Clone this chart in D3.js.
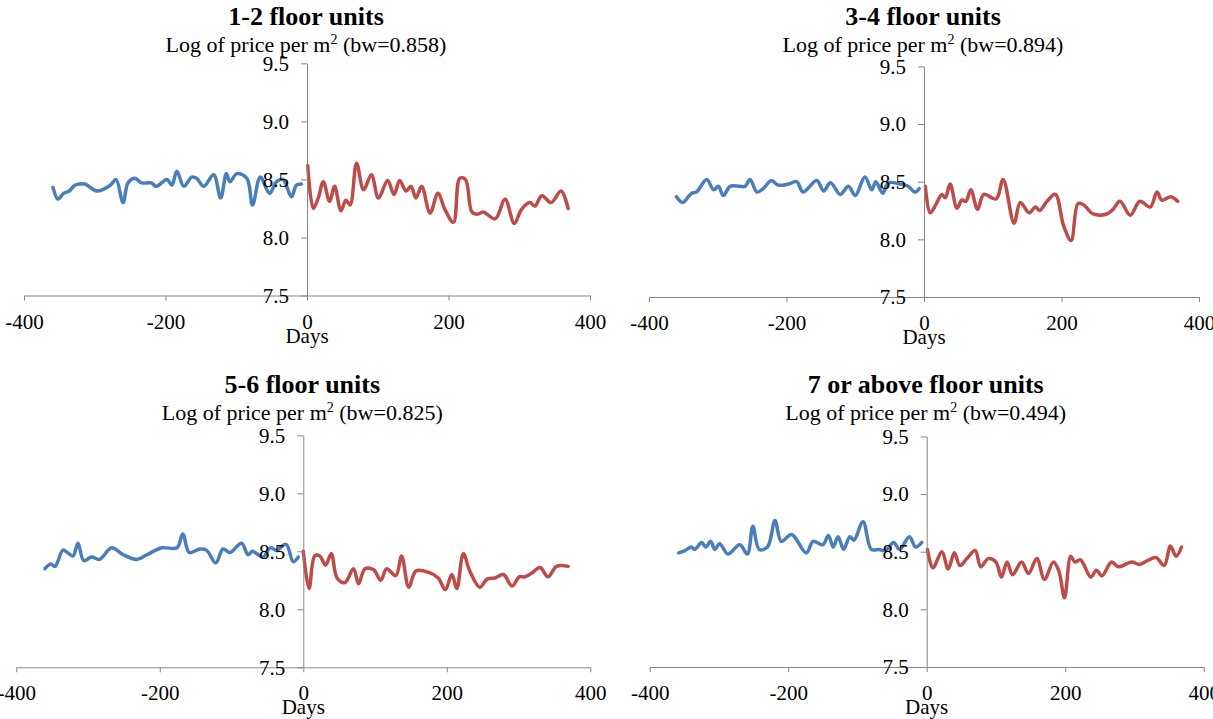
<!DOCTYPE html>
<html>
<head>
<meta charset="utf-8">
<script src="https://cdn.jsdelivr.net/npm/d3@7"></script>
<style>
  body { margin: 0; background: #fff; }
  svg { display: block; }
  text { font-family: "Liberation Serif", "Times New Roman", serif; fill: #000; }
</style>
</head>
<body>
<svg id="chart" width="1213" height="719"></svg>
<script>
// ---- Data: log price per m² around the event date (days before = blue, after = red) ----

const panelTitles = ["1-2 floor units", "3-4 floor units", "5-6 floor units", "7 or above floor units"];
const bandwidths  = ["0.858", "0.894", "0.825", "0.494"];
const xTicks = [-400, -200, 0, 200, 400];
const yTicks = [7.5, 8.0, 8.5, 9.0, 9.5];

// 1-2 floor units
const preDays12  = [-359,-352,-344,-336,-328,-314,-297,-278,-270,-260,-253,-243,-234,-220,-213,-198,-191,-184,-174,-163,-156,-146,-132,-122,-114,-109,-99,-85,-77,-66,-53,-43,-34,-22,-15,-8];
const preLog12   = [8.43,8.33,8.38,8.40,8.45,8.46,8.40,8.45,8.50,8.30,8.47,8.51,8.47,8.47,8.44,8.50,8.45,8.57,8.44,8.52,8.51,8.44,8.54,8.34,8.55,8.48,8.55,8.51,8.28,8.52,8.38,8.48,8.50,8.35,8.45,8.46];
const postDays12 = [1,9,16,23,32,39,48,55,61,70,80,91,101,114,123,131,140,147,154,162,174,185,195,207,216,224,233,241,249,266,280,293,303,315,322,332,345,359,369];
const postLog12  = [8.62,8.25,8.34,8.48,8.31,8.44,8.23,8.32,8.28,8.64,8.41,8.54,8.34,8.49,8.37,8.49,8.40,8.44,8.34,8.44,8.21,8.38,8.24,8.13,8.51,8.50,8.22,8.20,8.22,8.16,8.33,8.12,8.24,8.30,8.27,8.36,8.30,8.40,8.25];

// 3-4 floor units
const preDays34  = [-360,-351,-338,-331,-316,-306,-299,-292,-282,-268,-260,-253,-243,-234,-222,-212,-197,-185,-176,-156,-146,-136,-122,-110,-100,-86,-76,-70,-60,-52,-35,-23,-13,-7];
const preLog34   = [8.37,8.32,8.40,8.41,8.52,8.43,8.46,8.38,8.46,8.46,8.46,8.52,8.41,8.44,8.51,8.47,8.48,8.50,8.41,8.51,8.42,8.49,8.39,8.46,8.38,8.54,8.43,8.50,8.40,8.49,8.48,8.46,8.41,8.44];
const postDays34 = [2,9,18,26,31,38,48,55,61,68,78,87,105,115,131,140,153,162,168,179,191,203,214,224,232,246,266,275,285,300,314,329,339,346,359,369];
const postLog34  = [8.46,8.23,8.31,8.39,8.36,8.48,8.27,8.34,8.33,8.43,8.26,8.39,8.35,8.52,8.14,8.32,8.23,8.28,8.25,8.33,8.39,8.12,7.99,8.31,8.30,8.22,8.22,8.26,8.33,8.21,8.33,8.28,8.41,8.34,8.37,8.33];

// 5-6 floor units
const preDays56  = [-360,-352,-346,-335,-329,-321,-314,-306,-295,-284,-267,-251,-232,-218,-197,-176,-168,-159,-144,-135,-122,-112,-102,-86,-77,-71,-65,-56,-46,-37,-24,-14,-7];
const preLog56   = [8.35,8.39,8.37,8.51,8.49,8.46,8.57,8.42,8.45,8.43,8.53,8.47,8.43,8.47,8.53,8.53,8.65,8.49,8.52,8.51,8.40,8.52,8.49,8.57,8.47,8.50,8.48,8.45,8.53,8.51,8.56,8.41,8.45];
const postDays56 = [0,8,16,23,31,39,47,58,70,77,86,98,108,116,129,137,147,157,174,188,198,207,214,223,232,246,256,267,279,291,301,309,318,330,341,353,369];
const postLog56  = [8.50,8.18,8.46,8.46,8.38,8.48,8.27,8.23,8.35,8.22,8.35,8.34,8.25,8.35,8.29,8.46,8.19,8.33,8.32,8.27,8.17,8.30,8.18,8.48,8.33,8.19,8.26,8.27,8.30,8.20,8.28,8.28,8.31,8.36,8.28,8.37,8.37];

// 7 or above floor units
const preDays7   = [-358,-349,-340,-335,-325,-319,-312,-306,-299,-287,-270,-259,-251,-242,-230,-219,-210,-195,-174,-164,-150,-142,-135,-128,-120,-111,-105,-92,-80,-69,-59,-48,-39,-25,-16,-7];
const preLog7    = [8.49,8.51,8.54,8.52,8.58,8.54,8.59,8.52,8.57,8.48,8.56,8.48,8.72,8.52,8.54,8.77,8.59,8.65,8.49,8.59,8.56,8.64,8.54,8.63,8.52,8.63,8.60,8.76,8.52,8.52,8.51,8.58,8.52,8.63,8.54,8.58];
const postDays7  = [1,9,22,31,40,48,58,70,78,89,100,108,116,124,137,147,159,170,183,191,199,208,214,222,237,245,253,267,277,296,307,318,331,343,352,360,368];
const postLog7   = [8.52,8.36,8.50,8.35,8.49,8.38,8.44,8.51,8.37,8.44,8.41,8.28,8.41,8.30,8.41,8.31,8.44,8.26,8.41,8.33,8.10,8.46,8.41,8.43,8.28,8.34,8.29,8.41,8.37,8.41,8.39,8.42,8.45,8.38,8.55,8.46,8.54];

const preSeries  = [[preDays12, preLog12], [preDays34, preLog34], [preDays56, preLog56], [preDays7, preLog7]];
const postSeries = [[postDays12, postLog12], [postDays34, postLog34], [postDays56, postLog56], [postDays7, postLog7]];

// ---- Layout of the four panels (pixel frames of each plot area) ----
const frames = [
  { left: 24,   right: 590,  top: 63.3,  bottom: 295.5, titleY: 25,  subY: 52 },
  { left: 649,  right: 1199, top: 66.4,  bottom: 297,   titleY: 25,  subY: 52 },
  { left: 16.3, right: 590.3,top: 435.3, bottom: 667.3, titleY: 393, subY: 420 },
  { left: 649.7,right: 1203.7,top: 436.4,bottom: 667,   titleY: 393, subY: 420 }
];

const BLUE = "#4a7ebb", RED = "#be4b48", AXIS = "#868686";
const svg = d3.select("#chart");

frames.forEach((f, i) => {
  const x = d3.scaleLinear().domain([-400, 400]).range([f.left, f.right]);
  const y = d3.scaleLinear().domain([7.5, 9.5]).range([f.bottom, f.top]);
  const g = svg.append("g");

  const line = d3.line()
    .x(d => x(d[0]))
    .y(d => y(d[1]))
    .curve(d3.curveCatmullRom.alpha(0.5));

  const toPts = ([days, vals]) => days.map((d, k) => [d, vals[k]]);

  // x axis along the 7.5 baseline
  const gx = g.append("g")
    .attr("transform", `translate(0,${y(7.5)})`)
    .call(d3.axisBottom(x).tickValues(xTicks).tickSize(5).tickSizeOuter(0).tickFormat(d => String(d)));
  gx.select(".domain").attr("stroke", AXIS);
  gx.selectAll(".tick line").attr("stroke", AXIS);
  gx.selectAll(".tick text")
    .attr("y", 33).attr("dy", null)
    .attr("font-size", 21).attr("font-family", null);

  // axis title
  g.append("text")
    .attr("x", x(0)).attr("y", y(7.5) + 47)
    .attr("text-anchor", "middle").attr("font-size", 21)
    .text("Days");

  // series
  g.append("path").datum(toPts(preSeries[i]))
    .attr("d", line).attr("fill", "none")
    .attr("stroke", BLUE).attr("stroke-width", 3.5)
    .attr("stroke-linejoin", "round").attr("stroke-linecap", "round");
  g.append("path").datum(toPts(postSeries[i]))
    .attr("d", line).attr("fill", "none")
    .attr("stroke", RED).attr("stroke-width", 3.5)
    .attr("stroke-linejoin", "round").attr("stroke-linecap", "round");

  // y axis at day 0
  const gy = g.append("g")
    .attr("transform", `translate(${x(0)},0)`)
    .call(d3.axisLeft(y).tickValues(yTicks).tickSize(6).tickSizeOuter(0).tickPadding(12).tickFormat(d3.format(".1f")));
  gy.select(".domain").attr("stroke", AXIS);
  gy.selectAll(".tick line").attr("stroke", AXIS);
  gy.selectAll(".tick text").attr("font-size", 21).attr("font-family", null);

  // titles
  g.append("text")
    .attr("x", x(0) - 1).attr("y", f.titleY)
    .attr("text-anchor", "middle")
    .attr("font-size", 26).attr("font-weight", "bold")
    .text(panelTitles[i]);

  const sub = g.append("text")
    .attr("x", x(0) - 1).attr("y", f.subY)
    .attr("text-anchor", "middle").attr("font-size", 22);
  sub.append("tspan").text("Log of price per m");
  sub.append("tspan").attr("font-size", 14).attr("dy", -8).text("2");
  sub.append("tspan").attr("dy", 8).text(` (bw=${bandwidths[i]})`);
});
</script>
</body>
</html>
